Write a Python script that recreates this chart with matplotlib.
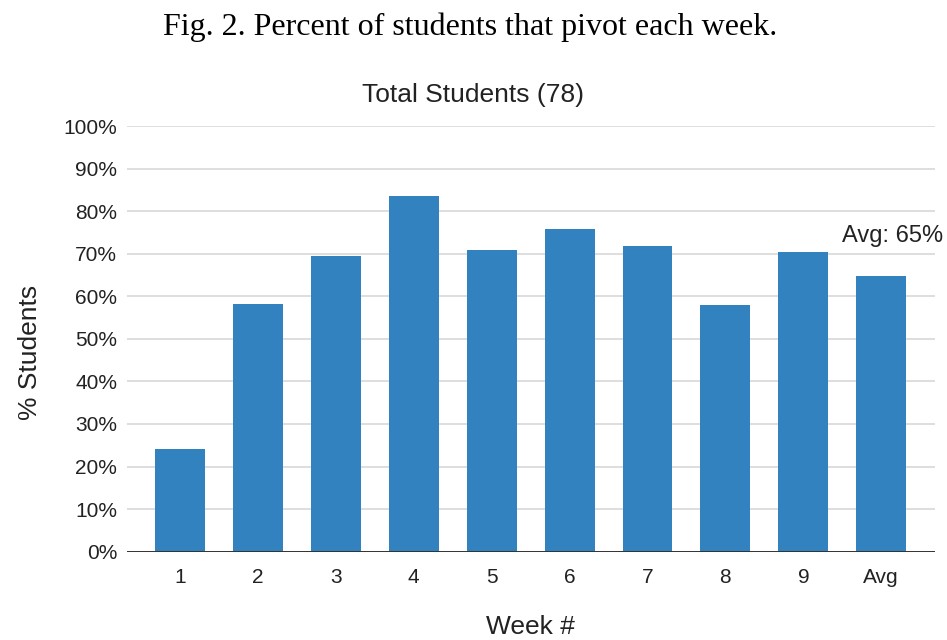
import matplotlib.pyplot as plt
import numpy as np
from matplotlib.ticker import FuncFormatter

weeks = ['1', '2', '3', '4', '5', '6', '7', '8', '9', 'Avg']
pct_pivot = [24.1, 58.3, 69.5, 83.6, 70.8, 75.8, 71.7, 58.0, 70.5, 64.8]
avg_label = 'Avg: 65%'

bar_color = '#3182bf'
txt_color = '#222222'
sans = 'Liberation Sans'

fig = plt.figure(figsize=(9.47, 6.4), dpi=100)
ax = fig.add_axes([127/947, 1 - 551.7/640, (935 - 127)/947, (551.7 - 126)/640])

x = np.arange(len(weeks))
ax.bar(x, pct_pivot, width=0.64, color=bar_color, zorder=3)

ax.set_ylim(0, 100)
ax.set_xlim(-0.68, 9.69)
ax.set_yticks(np.arange(0, 101, 10))
ax.yaxis.set_major_formatter(FuncFormatter(lambda v, p: f'{v:.0f}%'))
ax.set_xticks(x)
ax.set_xticklabels(weeks)
ax.grid(axis='y', color='#d4d4d4', linewidth=1.1, zorder=0)
ax.axhline(0, color='#333333', linewidth=1.4, zorder=4)
for s in ax.spines.values():
    s.set_visible(False)
ax.tick_params(length=0, labelsize=15, colors=txt_color)
ax.tick_params(axis='x', pad=12)
ax.tick_params(axis='y', pad=7)
for lbl in ax.get_xticklabels() + ax.get_yticklabels():
    lbl.set_family(sans)

# label over the average bar
ax.annotate(avg_label, (x[-1], pct_pivot[-1]), xytext=(8, 29), textcoords='offset points',
            ha='center', va='center', fontsize=17, family=sans, color=txt_color)

fig.text(473/947, 1 - 95/640, 'Total Students (78)', ha='center', va='center',
         fontsize=19, family=sans, color=txt_color)
fig.text(30/947, 1 - 352/640, '% Students', rotation=90, ha='center', va='center',
         fontsize=19, family=sans, color=txt_color)
fig.text(530/947, 1 - 634/640, 'Week #', ha='center', va='baseline',
         fontsize=19, family=sans, color=txt_color)

fig.text(0.496, 0.957, 'Fig. 2. Percent of students that pivot each week.',
         ha='center', va='center', fontsize=23, family='Liberation Serif', color='black')

fig.savefig('out.png', dpi=100)
